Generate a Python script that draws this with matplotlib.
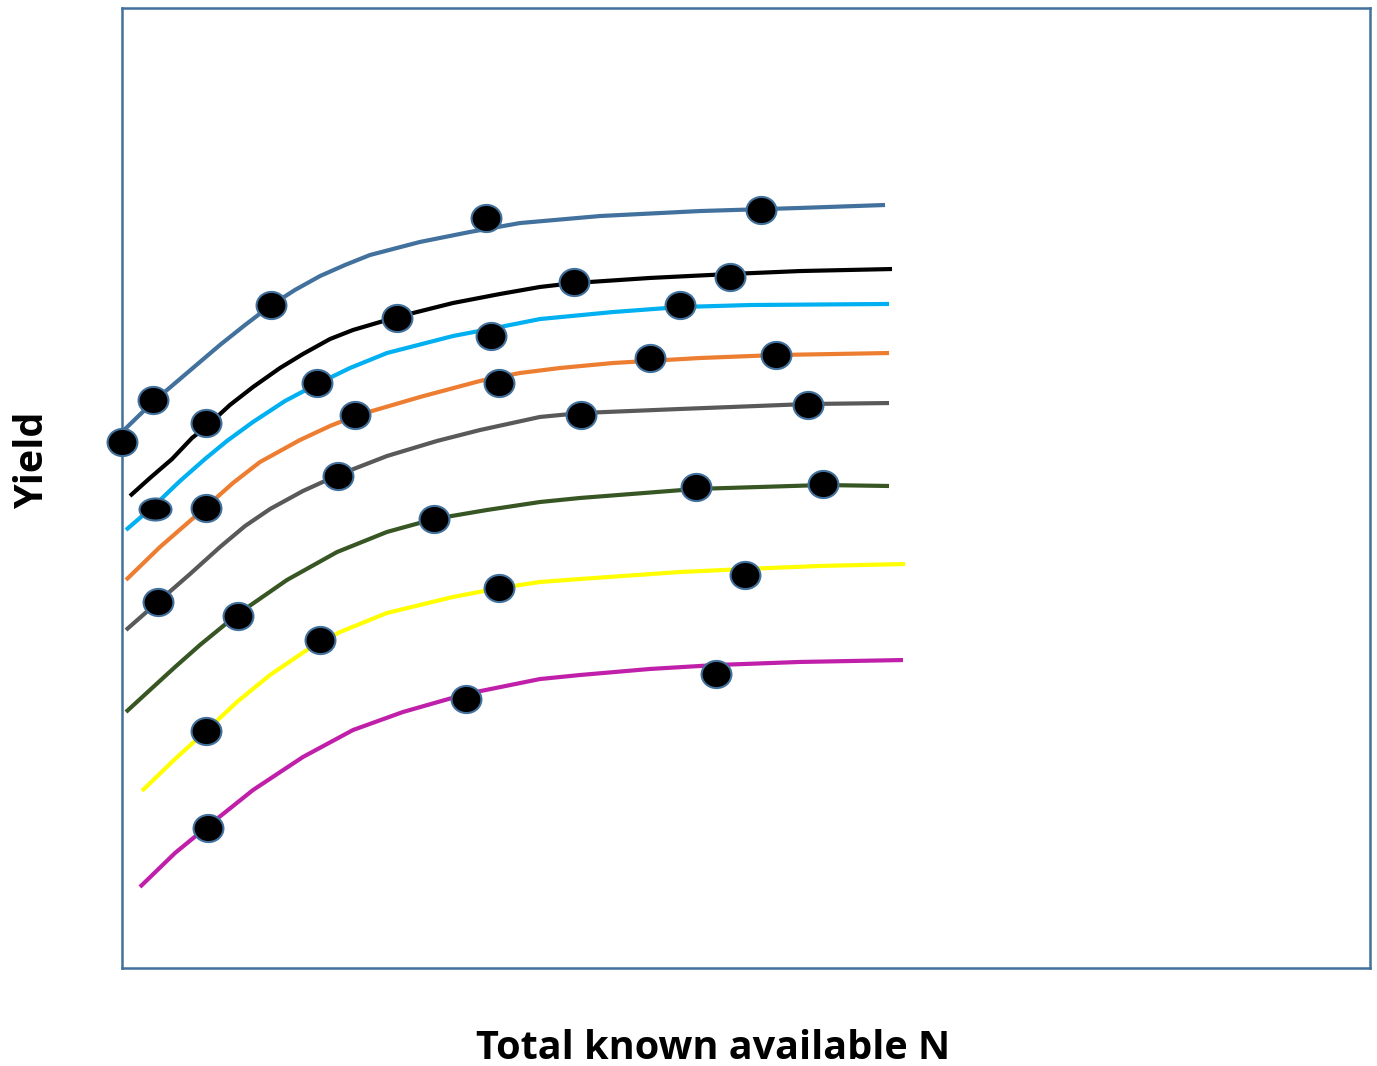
import matplotlib.pyplot as plt
from matplotlib.path import Path
from matplotlib.transforms import Affine2D

# curves (x = total known available N, y = yield, arbitrary units)
blue_x = [0, 2.48, 5.21, 7.85, 9.86, 11.86, 13.86, 15.87, 17.87, 19.87, 23.88, 27.88, 31.89, 38.3, 46.31, 54.33, 61.14]
blue_y = [55.83, 58.96, 61.98, 64.9, 66.98, 68.96, 70.63, 72.08, 73.23, 74.27, 75.63, 76.67, 77.6, 78.33, 78.85, 79.17, 79.48]
black_x = [0.64, 2.24, 4.01, 5.61, 6.73, 8.65, 10.5, 12.66, 14.5, 16.67, 18.51, 22.04, 26.52, 30.29, 33.49, 36.22, 42.31, 48.72, 54.33, 61.7]
black_y = [49.17, 51.04, 53.02, 55.21, 56.35, 58.65, 60.52, 62.5, 63.96, 65.52, 66.46, 67.81, 69.27, 70.21, 70.94, 71.35, 71.88, 72.29, 72.6, 72.81]
cyan_x = [0.32, 2.64, 4.65, 6.65, 8.41, 10.5, 13.06, 15.63, 18.27, 21.23, 26.52, 30.29, 33.49, 39.34, 44.71, 50.32, 61.46]
cyan_y = [45.63, 48.23, 50.73, 53.02, 54.9, 56.88, 59.06, 60.83, 62.5, 64.06, 65.83, 66.77, 67.6, 68.33, 68.85, 69.06, 69.17]
orange_x = [0.32, 3.04, 6.73, 8.89, 11.06, 14.26, 16.67, 18.67, 23.88, 28.69, 31.89, 35.1, 39.34, 46.31, 52.4, 61.46]
orange_y = [40.42, 43.85, 48.02, 50.52, 52.71, 55.0, 56.46, 57.5, 59.48, 61.15, 61.98, 62.5, 63.02, 63.54, 63.85, 64.06]
gray_x = [0.32, 2.88, 5.45, 7.85, 9.86, 11.86, 14.5, 17.31, 21.23, 25.24, 28.69, 33.49, 36.78, 44.71, 54.97, 61.46]
gray_y = [35.21, 38.13, 41.04, 43.85, 46.04, 47.81, 49.69, 51.35, 53.33, 54.9, 56.04, 57.4, 57.81, 58.23, 58.75, 58.85]
green_x = [0.32, 2.24, 4.25, 6.25, 9.29, 13.22, 17.23, 21.23, 25.0, 29.25, 33.49, 36.7, 45.99, 56.17, 61.46]
green_y = [26.67, 28.96, 31.35, 33.65, 36.88, 40.42, 43.33, 45.42, 46.77, 47.71, 48.54, 48.96, 49.9, 50.31, 50.21]
yellow_x = [1.6, 4.25, 6.73, 9.21, 11.86, 14.82, 17.47, 21.23, 26.52, 30.29, 33.49, 36.7, 44.71, 49.92, 55.93, 62.74]
yellow_y = [18.44, 21.77, 24.69, 27.71, 30.52, 33.13, 35.0, 36.98, 38.65, 39.58, 40.21, 40.52, 41.25, 41.56, 41.88, 42.08]
magenta_x = [1.44, 4.25, 6.89, 10.5, 14.5, 18.51, 22.52, 27.56, 33.49, 36.7, 42.31, 47.6, 54.33, 62.58]
magenta_y = [8.44, 11.98, 14.79, 18.54, 21.98, 24.79, 26.67, 28.54, 30.1, 30.52, 31.15, 31.56, 31.88, 32.08]

# observed points
pts_x = [0, 2.5, 11.9, 29.2, 51.2,
         6.7, 22.0, 36.2, 48.7,
         15.6, 29.6, 44.7,
         6.7, 18.7, 30.2, 42.3, 52.4,
         2.9, 17.3, 36.8, 55.0,
         9.3, 25.0, 46.0, 56.2,
         6.7, 15.9, 30.2, 49.9,
         6.9, 27.6, 47.6]
pts_y = [54.8, 59.2, 69.1, 78.1, 79.0,
         56.8, 67.7, 71.5, 72.0,
         60.9, 65.8, 69.1,
         47.9, 57.6, 60.9, 63.5, 63.9,
         38.1, 51.25, 57.6, 58.65,
         36.7, 46.8, 50.1, 50.4,
         24.7, 34.2, 39.6, 40.9,
         14.6, 28.0, 30.6]
# one squashed point on the cyan curve
flat_x = [2.64]
flat_y = [47.8]

curves = [
    (blue_x, blue_y, "#41719C"),
    (black_x, black_y, "#000000"),
    (cyan_x, cyan_y, "#00B0F0"),
    (orange_x, orange_y, "#ED7D31"),
    (gray_x, gray_y, "#595959"),
    (green_x, green_y, "#375623"),
    (yellow_x, yellow_y, "#FFFF00"),
    (magenta_x, magenta_y, "#C01FAA"),
]

fig = plt.figure(figsize=(13.77, 10.66), dpi=100)
ax = fig.add_axes([122 / 1377, 98 / 1066, 1248 / 1377, 960 / 1066])

for xs, ys, col in curves:
    ax.plot(xs, ys, color=col, lw=3, solid_capstyle="butt", solid_joinstyle="round", zorder=2)

oval = Path.unit_circle().transformed(Affine2D().scale(1.1, 1.0))
ax.plot(pts_x, pts_y, ls="none", marker=oval, ms=21.5, mfc="black",
        mec="#41719C", mew=1.5, zorder=3, clip_on=False)
flat = Path.unit_circle().transformed(Affine2D().scale(1.45, 1.0))
ax.plot(flat_x, flat_y, ls="none", marker=flat, ms=23, mfc="black",
        mec="#41719C", mew=1.5, zorder=3)

ax.set_xlim(0, 100)
ax.set_ylim(0, 100)
ax.set_xticks([])
ax.set_yticks([])
for s in ax.spines.values():
    s.set_color("#41719C")
    s.set_linewidth(1.8)

fig.text(713 / 1377, 7 / 1066, "Total known available N", ha="center", va="baseline",
         fontsize=28.5, fontweight="bold", family=["Open Sans", "DejaVu Sans"])
fig.text(33 / 1377, (1066 - 460) / 1066, "Yield", ha="center", va="center", rotation=90,
         fontsize=28.5, fontweight="bold", family=["Open Sans", "DejaVu Sans"])

fig.savefig("out.png", dpi=100)
